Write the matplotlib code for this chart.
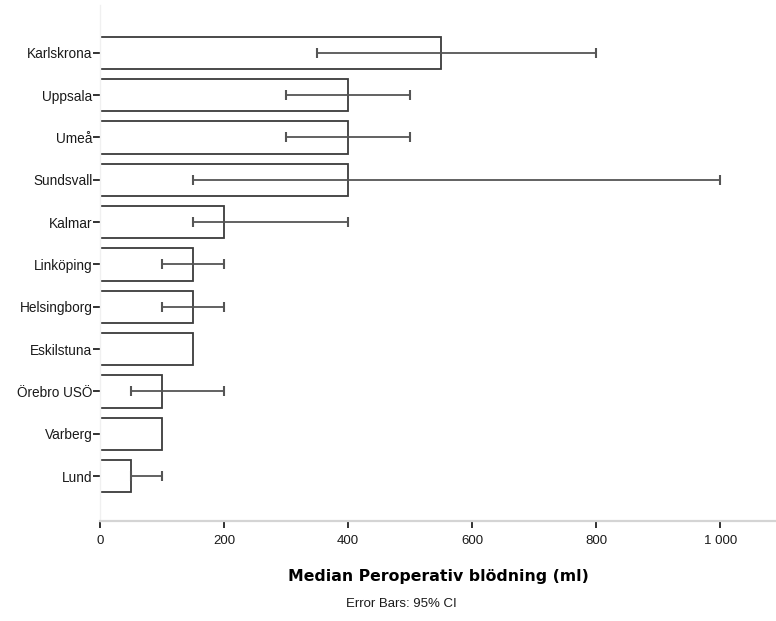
import matplotlib
matplotlib.use("Agg")
import matplotlib.pyplot as plt
import numpy as np

plt.rcParams['font.family'] = ['Liberation Sans', 'DejaVu Sans']

# Median perioperative bleeding per hospital, with 95% CI bounds
hospitals = ["Karlskrona", "Uppsala", "Umeå", "Sundsvall", "Kalmar", "Linköping",
             "Helsingborg", "Eskilstuna", "Örebro USÖ", "Varberg", "Lund"]
medians = [550, 400, 400, 400, 200, 150, 150, 150, 100, 100, 50]
ci_low = [350, 300, 300, 150, 150, 100, 100, None, 50, None, 50]
ci_high = [800, 500, 500, 1000, 400, 200, 200, None, 200, None, 100]

xticks = [0, 200, 400, 600, 800, 1000]
xtick_labels = ["0", "200", "400", "600", "800", "1 000"]

fig = plt.figure(figsize=(7.76, 6.21), dpi=100)
ax = fig.add_axes([100 / 776, 1 - 521 / 621, 676 / 776, 516 / 621])

pos = np.arange(len(hospitals))
vals = np.array(medians, dtype=float)

# bars start slightly left of zero so their left edge is hidden by the axis
pad = 10
ax.barh(pos, vals + pad, left=-pad, height=0.76, color="white",
        edgecolor="#3c3c3c", linewidth=1.3, zorder=2)

for p, m, lo, hi in zip(pos, medians, ci_low, ci_high):
    if lo is None:
        continue
    ax.errorbar([m], [p], xerr=[[m - lo], [hi - m]], fmt="none",
                ecolor="#555555", elinewidth=1.3, capsize=3.6, capthick=1.5,
                zorder=3)

ax.set_xlim(0, 1090)
ax.set_ylim(len(hospitals) - 1 + 1.06, -1.13)

ax.set_yticks(pos)
ax.set_yticklabels(hospitals, fontsize=9.8, color="#1a1a1a")
ax.set_xticks(xticks)
ax.set_xticklabels(xtick_labels, fontsize=9.5, color="#1a1a1a")

ax.tick_params(axis="y", length=5, width=1.3, color="#222222", pad=0.5)
ax.tick_params(axis="x", length=5, width=1.3, color="#222222", pad=5)

for side in ("top", "right"):
    ax.spines[side].set_visible(False)
ax.spines["left"].set_color("#f0f0f0")
ax.spines["left"].set_linewidth(1.0)
ax.spines["bottom"].set_color("#d4d4d4")
ax.spines["bottom"].set_linewidth(1.6)

ax.set_xlabel("Median Peroperativ blödning (ml)", fontsize=11.3, fontweight="bold",
              family="DejaVu Sans", labelpad=16)

fig.text(401 / 776, 1 - 604 / 621, "Error Bars: 95% CI", fontsize=9.5,
         ha="center", va="center", color="#1a1a1a")

fig.savefig("out.png", dpi=100, facecolor="white")
